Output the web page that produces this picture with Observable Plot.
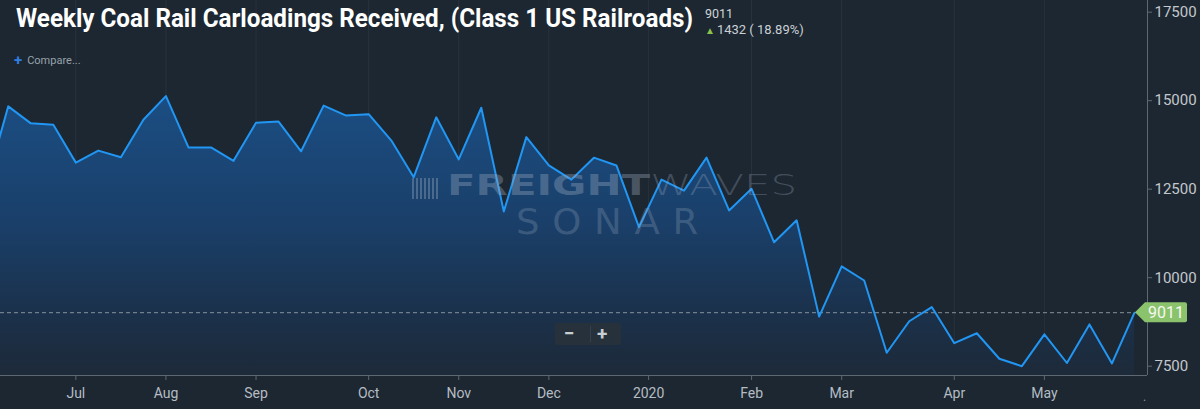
<!DOCTYPE html>
<html><head><meta charset="utf-8">
<script src="https://cdn.jsdelivr.net/npm/d3@7"></script>
<script src="https://cdn.jsdelivr.net/npm/@observablehq/plot@0.6"></script>
<style>
html,body{margin:0;padding:0;background:#1d2731;overflow:hidden}
#wrap{position:relative;width:1200px;height:409px;font-family:Roboto,"Noto Sans",sans-serif;background:#1d2731}
#wrap svg{position:absolute;left:0;top:0}
.ov{position:absolute;white-space:nowrap;transform-origin:0 0}
#title{left:16px;top:4px;font-size:25px;font-weight:700;color:#ffffff;letter-spacing:0}
#last{left:705px;top:6px;font-size:12.5px;color:#cfd4d8}
#chg{left:705px;top:22px;font-size:13px;color:#c9d0d5}
#chg b{color:#8bc34a;font-size:10px;margin-right:2px}
#cmp{left:14px;top:50px;font-size:11px;color:#98a2ab}
#cmp span{color:#2f7fe0;font-size:15px;font-weight:700;margin-right:5px;position:relative;top:1px}
#wm1{left:447px;top:168px;font-size:29px;color:rgba(160,175,195,0.36);font-family:"DejaVu Sans",sans-serif}
#wm1 .fr{font-weight:700}
#wm1 .wv{font-weight:200;font-family:"DejaVu Sans ExtraLight","DejaVu Sans",sans-serif;color:rgba(160,175,195,0.30)}
#wm2{left:516px;top:202px;font-size:35px;color:rgba(160,175,195,0.27);font-family:"DejaVu Sans ExtraLight","DejaVu Sans",sans-serif;letter-spacing:12px}
#wmicon{position:absolute;left:412px;top:178px;width:27px;height:21px;background:repeating-linear-gradient(90deg,rgba(160,175,195,0.36) 0 2px,transparent 2px 4px)}
#zoom{position:absolute;left:555px;top:323px;width:66px;height:22px;background:#26313c;border-radius:2px;color:#c9ced3;font-size:19px;font-weight:700;line-height:21px}
#zoom .m{position:absolute;left:9px;top:0}
#zoom .p{position:absolute;left:42px;top:0}
#zoom .d{position:absolute;left:35px;top:3px;width:1px;height:16px;background:#34404c}
#dot{left:1143px;top:390px;font-size:12px;color:#8d969e}
</style></head><body><div id="wrap"></div>
<script>
const titleText = "Weekly Coal Rail Carloadings Received, (Class 1 US Railroads)";
const weekStart = "2019-06-09";
const weekEnd = "2020-06-01";
const values = [12580, 14840, 14360, 14320, 13250, 13590, 13400, 14460, 15130, 13680,
  13680, 13300, 14380, 14410, 13570, 14860, 14580, 14620, 13880, 12840,
  14530, 13340, 14800, 11870, 13970, 13170, 12770, 13390, 13170, 11430,
  12770, 12460, 13390, 11900, 12510, 11000, 11620, 8900, 10320, 9920,
  7880, 8770, 9170, 8150, 8430, 7710, 7500, 8400, 7590, 8680,
  7579, 9011];
const tickDates = ["2019-07-07","2019-08-04","2019-09-01","2019-10-06","2019-11-03","2019-12-01","2020-01-01","2020-02-02","2020-03-01","2020-04-05","2020-05-03"];
const tickLabels = ["Jul","Aug","Sep","Oct","Nov","Dec","2020","Feb","Mar","Apr","May"];
const yTicks = [7500, 10000, 12500, 15000, 17500];
const xDomain = [new Date("2019-06-13T14:00:00Z"), new Date("2020-06-04T01:00:00Z")];
const yDomain = [7237, 17830];

const weeks = d3.utcSunday.range(new Date(weekStart), new Date(weekEnd));
const data = weeks.map((d, i) => ({date: d, value: values[i]}));
const ticks = tickDates.map(s => new Date(s + "T00:00:00Z"));
const labelOf = new Map(ticks.map((d, i) => [+d, tickLabels[i]]));
const lastValue = values[values.length - 1];
const prevValue = values[values.length - 2];
const lastDate = weeks[weeks.length - 1];
const change = lastValue - prevValue;
const changePct = (100 * change / prevValue).toFixed(2) + "%";

const NS = "http://www.w3.org/2000/svg";
function gradientDefs(index, scales) {
  const defs = document.createElementNS(NS, "defs");
  const top = scales.y(15000), bottom = scales.y(yDomain[0]);
  defs.innerHTML = `<linearGradient id="coalGrad" gradientUnits="userSpaceOnUse" x1="0" y1="${top}" x2="0" y2="${bottom}">` +
    '<stop offset="0" stop-color="#1b4d82"/>' +
    '<stop offset="0.45" stop-color="#1a3f69"/>' +
    '<stop offset="0.8" stop-color="#1b3049"/>' +
    '<stop offset="1" stop-color="#1d2a39"/></linearGradient>';
  return defs;
}
function lastLabel(index, scales) {
  const x = scales.x(lastDate), y = scales.y(lastValue);
  const g = document.createElementNS(NS, "g");
  const p = document.createElementNS(NS, "path");
  p.setAttribute("d", `M${x+1},${y} L${x+11},${y-10} L${x+51},${y-10} Q${x+53},${y-10} ${x+53},${y-8} L${x+53},${y+8} Q${x+53},${y+10} ${x+51},${y+10} L${x+11},${y+10} Z`);
  p.setAttribute("fill", "#8bc36d");
  g.appendChild(p);
  const t = document.createElementNS(NS, "text");
  t.setAttribute("x", x + 32); t.setAttribute("y", y);
  t.setAttribute("dy", "0.36em"); t.setAttribute("text-anchor", "middle");
  t.setAttribute("fill", "#f4f8f0"); t.setAttribute("font-size", "16");
  t.textContent = String(lastValue);
  g.appendChild(t);
  return g;
}

const chart = Plot.plot({
  width: 1200, height: 409,
  marginTop: 0, marginBottom: 34, marginLeft: 0, marginRight: 53,
  style: {background: "transparent", color: "#b4bcc4", fontFamily: "Roboto, sans-serif", fontSize: "14px", overflow: "visible"},
  x: {type: "utc", domain: xDomain, label: null},
  y: {domain: yDomain, label: null},
  marks: [
    gradientDefs,
    Plot.ruleX(ticks, {stroke: "#28323d", strokeWidth: 1}),
    Plot.areaY(data, {x: "date", y1: yDomain[0], y2: "value", fill: "url(#coalGrad)", clip: true}),
    Plot.ruleY([lastValue], {stroke: "#86909a", strokeDasharray: "4,3", strokeWidth: 1}),
    Plot.lineY(data, {x: "date", y: "value", stroke: "#2196f3", strokeWidth: 2, clip: true}),
    Plot.ruleY([yDomain[0]], {stroke: "#5e6872"}),
    Plot.ruleX([xDomain[1]], {stroke: "#5e6872"}),
    Plot.axisX(ticks, {tickSize: 5, tickPadding: 8, tickFormat: d => labelOf.get(+d), fill: "#b4bcc4", stroke: "#5e6872", fontSize: 14, label: null}),
    Plot.axisY(yTicks, {anchor: "right", tickSize: 4, tickPadding: 3, tickFormat: d3.format("d"), fill: "#c3c8cd", stroke: "#5e6872", fontSize: 15, label: null}),
    lastLabel
  ]
});

const wrap = document.getElementById("wrap");
wrap.appendChild(chart);
function addDiv(id, html, cls) {
  const el = document.createElement("div");
  el.id = id; el.className = cls || "ov"; el.innerHTML = html;
  wrap.appendChild(el); return el;
}
function fit(el, w) {
  const r = el.getBoundingClientRect().width;
  if (r > 0) el.style.transform = `scaleX(${w / r})`;
}
const tEl = addDiv("title", titleText);
addDiv("last", String(lastValue));
addDiv("chg", `<b>&#9650;</b>${change} ( ${changePct})`);
addDiv("cmp", `<span>+</span>Compare...`);
addDiv("wmicon", "", "");
const w1 = addDiv("wm1", `<span class="fr">FREIGHT</span><span class="wv">WAVES</span>`);
const w2 = addDiv("wm2", "SONAR");
addDiv("zoom", `<span class="m">&minus;</span><span class="d"></span><span class="p">+</span>`, "");
addDiv("dot", ".");
fit(tEl, 677);
fit(w1, 350);
fit(w2, 195);
</script>
</body></html>
